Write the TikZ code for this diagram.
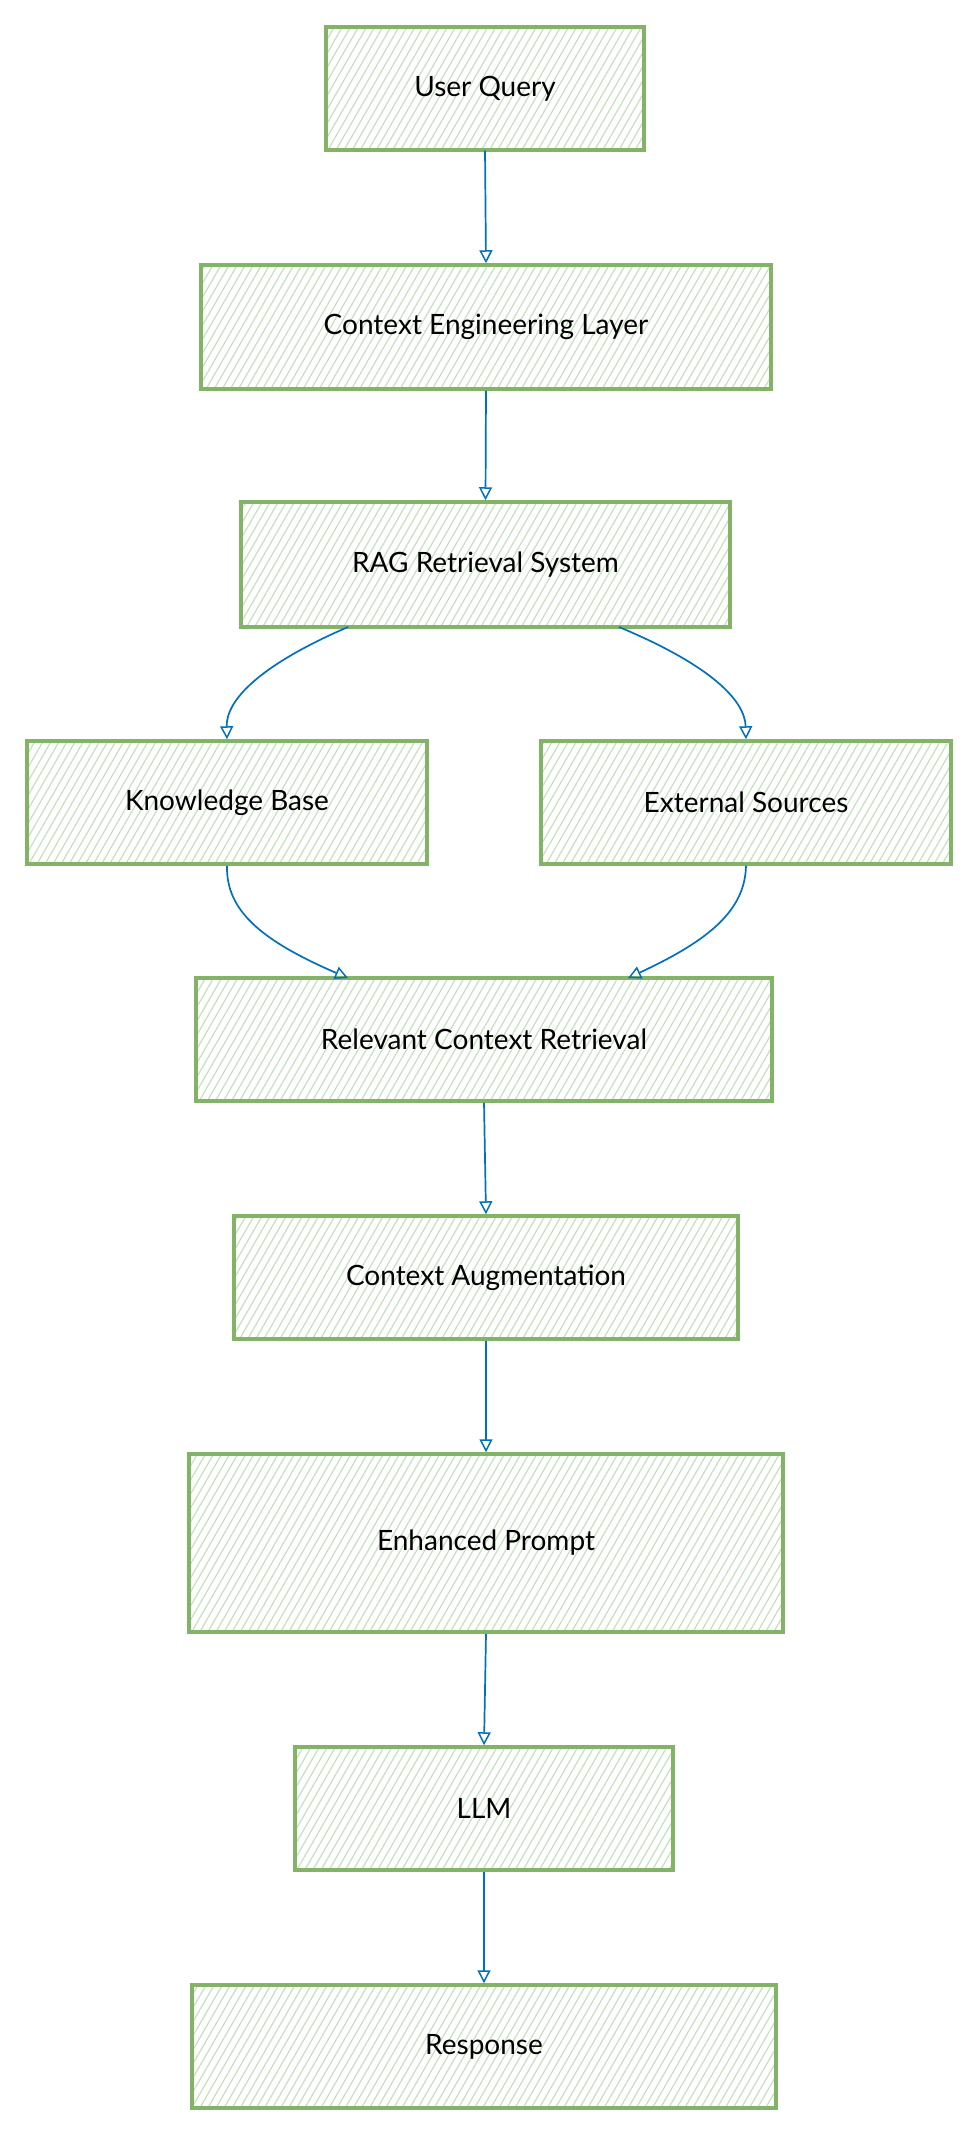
\documentclass[tikz,border=0pt]{standalone}
\usepackage{fontspec}
\setmainfont{Lato}
\usetikzlibrary{arrows.meta,patterns.meta,positioning}
\definecolor{boxgreen}{HTML}{82B366}
\definecolor{hatchgreen}{HTML}{C2E2BC}
\definecolor{arrowblue}{HTML}{0071BC}
\tikzset{
  stepbox/.style={draw=boxgreen, line width=3.5pt, rectangle,
    pattern={Lines[angle=60,distance=7pt,line width=1.2pt]}, pattern color=hatchgreen,
    font=\fontsize{28}{32}\selectfont, text=black, inner sep=0pt},
  flow/.style={draw=arrowblue, line width=1.7pt,
    -{Triangle[open,length=13pt,width=13pt,line width=1.5pt]}},
}
\begin{document}
\begin{tikzpicture}[x=1pt,y=-1pt]
\useasboundingbox (0,0) rectangle (975,2132);
\fill[white] (0,0) rectangle (975,2132);
\newcommand{\mybox}[6]{%
  \node[stepbox, minimum width={#4-#3}, minimum height={#6-#5}] (#1) at ({(#3+#4)/2},{(#5+#6)/2}) {#2};}
\mybox{uq}{User Query}{326}{644}{27}{150}
\mybox{cel}{Context Engineering Layer}{201}{771}{265}{389}
\mybox{rag}{RAG Retrieval System}{241}{730}{502}{627}
\mybox{kb}{Knowledge Base}{27}{427}{741}{864}
\mybox{es}{External Sources}{541}{951}{741}{864}
\mybox{rcr}{Relevant Context Retrieval}{196}{772}{978}{1101}
\mybox{ca}{Context Augmentation}{234}{738}{1216}{1339}
\mybox{ep}{Enhanced Prompt}{189}{783}{1454}{1632}
\mybox{llm}{LLM}{295}{673}{1747}{1870}
\mybox{resp}{Response}{192}{776}{1985}{2108}

\draw[flow] (uq.south) -- (cel.north);
\draw[flow] (cel.south) -- (rag.north);
\coordinate (ragL) at (348,627);
\coordinate (ragR) at (619,627);
\coordinate (rcrL) at (348,978);
\coordinate (rcrR) at (628,978);
\draw[flow] (ragL) .. controls (260,665) and (226,700) .. (kb.north);
\draw[flow] (ragR) .. controls (710,665) and (745,700) .. (es.north);
\draw[flow] (kb.south) .. controls (226,910) and (260,940) .. (rcrL);
\draw[flow] (es.south) .. controls (745,910) and (710,940) .. (rcrR);
\draw[flow] (rcr.south) -- (ca.north);
\draw[flow] (ca.south) -- (ep.north);
\draw[flow] (ep.south) -- (llm.north);
\draw[flow] (llm.south) -- (resp.north);
\end{tikzpicture}
\end{document}
